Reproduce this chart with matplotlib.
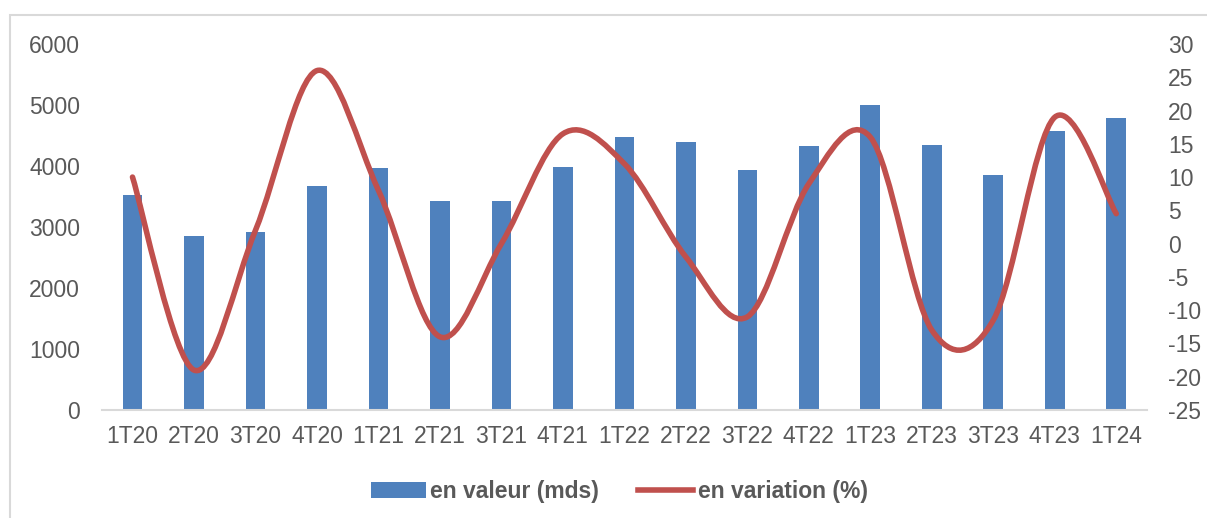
import matplotlib
matplotlib.use("Agg")
import matplotlib.pyplot as plt
import numpy as np
from matplotlib.path import Path
from matplotlib.patches import PathPatch, Patch, Rectangle
from matplotlib.lines import Line2D

# quarters
quarters = ["1T20", "2T20", "3T20", "4T20", "1T21", "2T21", "3T21", "4T21",
            "1T22", "2T22", "3T22", "4T22", "1T23", "2T23", "3T23", "4T23", "1T24"]
# en valeur (mds)
valeur = [3530, 2860, 2910, 3670, 3970, 3430, 3420, 3980,
          4470, 4400, 3930, 4320, 5000, 4340, 3850, 4570, 4790]
# en variation (%)
variation = [10, -19, 2, 26, 8, -14, 0, 16.5,
             12, -2, -11, 9, 16, -13, -11.5, 19, 4.5]

blue = "#4F81BD"
red = "#C0504D"
txt = "#595959"
grid_col = "#D9D9D9"

plt.rcParams["font.family"] = ["Liberation Sans", "DejaVu Sans"]
plt.rcParams["axes.unicode_minus"] = False

fig = plt.figure(figsize=(12.07, 5.18), dpi=100)
ax = fig.add_axes([0.0843, 0.2085, 0.8660, 0.7066])
ax2 = ax.twinx()

x = np.arange(len(quarters))
ax.bar(x, valeur, width=0.32, color=blue, zorder=2)

# smoothed line (excel-like bezier smoothing)
pts = np.column_stack([x, variation]).astype(float)
n = len(pts)
verts = [pts[0]]
codes = [Path.MOVETO]
for i in range(n - 1):
    p0 = pts[max(i - 1, 0)]
    p1 = pts[i]
    p2 = pts[i + 1]
    p3 = pts[min(i + 2, n - 1)]
    verts += [p1 + (p2 - p0) / 6, p2 - (p3 - p1) / 6, p2]
    codes += [Path.CURVE4] * 3
ax2.add_patch(PathPatch(Path(verts, codes), facecolor="none", edgecolor=red,
                        lw=4.0, capstyle="round", joinstyle="round", zorder=3))

ax.set_xlim(-0.5, len(quarters) - 0.5)
ax.set_ylim(0, 6000)
ax.set_yticks(range(0, 6001, 1000))
ax2.set_ylim(-25, 30)
ax2.set_yticks(range(-25, 31, 5))
ax.set_xticks(x)
ax.set_xticklabels(quarters)

for a in (ax, ax2):
    for s in ("top", "left", "right", "bottom"):
        a.spines[s].set_visible(False)
    a.tick_params(length=0, labelsize=16.5, colors=txt)
ax.spines["bottom"].set_visible(True)
ax.spines["bottom"].set_color(grid_col)
ax.spines["bottom"].set_linewidth(1.5)
ax.tick_params(axis="y", pad=15.5)
ax2.tick_params(axis="y", pad=15)
ax.tick_params(axis="x", pad=11)

# chart border
fig.patches.append(Rectangle((10 / 1207, -0.1), 1.2, 1 - 15 / 518 + 0.1,
                             transform=fig.transFigure, fill=False,
                             edgecolor=grid_col, lw=1.5))

handles = [Patch(facecolor=blue), Line2D([], [], color=red, lw=4.0)]
leg = fig.legend(handles, ["en valeur (mds)", "en variation (%)"],
                 loc="center", bbox_to_anchor=(0.513, 0.051), ncol=2,
                 frameon=False, handlelength=2.4, handletextpad=0.2,
                 columnspacing=1.7, prop={"size": 16.5, "weight": "bold"})
for t in leg.get_texts():
    t.set_color(txt)

fig.savefig("out.png", dpi=100)
